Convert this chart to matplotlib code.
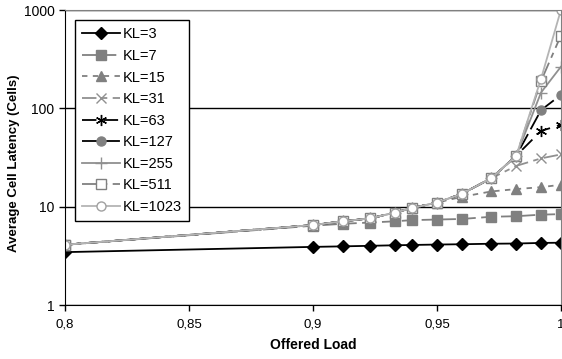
import matplotlib.pyplot as plt
from matplotlib.ticker import FixedLocator, NullLocator, FuncFormatter

plt.rcParams['font.family'] = ['Liberation Sans', 'DejaVu Sans']

# offered load values
load = [0.8, 0.9, 0.912, 0.923, 0.933, 0.94, 0.95, 0.96, 0.972, 0.982, 0.992, 1.0]

# average cell latency per KL value
kl3 = [3.45, 3.9, 3.95, 4.0, 4.05, 4.08, 4.12, 4.15, 4.2, 4.22, 4.28, 4.3]
kl7 = [4.1, 6.4, 6.7, 6.9, 7.1, 7.3, 7.4, 7.5, 7.9, 8.0, 8.3, 8.4]
kl15 = [4.1, 6.5, 7.1, 7.6, 8.7, 9.7, 11.0, 12.6, 14.3, 15.1, 15.8, 16.7]
kl31 = [4.1, 6.5, 7.1, 7.6, 8.7, 9.7, 11.0, 13.5, 19.5, 26, 31, 34]
kl63 = [4.1, 6.5, 7.1, 7.6, 8.7, 9.7, 11.0, 13.5, 19.5, 33, 59, 68]
kl127 = [4.1, 6.5, 7.1, 7.6, 8.7, 9.7, 11.0, 13.5, 19.5, 33, 96, 137]
kl255 = [4.1, 6.5, 7.1, 7.6, 8.7, 9.7, 11.0, 13.5, 19.5, 33, 145, 265]
kl511 = [4.1, 6.5, 7.1, 7.6, 8.7, 9.7, 11.0, 13.5, 19.5, 33, 190, 550]
kl1023 = [4.1, 6.5, 7.1, 7.6, 8.7, 9.7, 11.0, 13.5, 19.5, 33, 200, 1000]

series = [
    ('KL=3', kl3, dict(color='black', ls='-', marker='D', mfc='black', mec='black', ms=6)),
    ('KL=7', kl7, dict(color='#808080', ls=(0, (8, 3)), marker='s', mfc='#808080', mec='#808080', ms=6.5)),
    ('KL=15', kl15, dict(color='#808080', ls=(0, (3, 3)), marker='^', mfc='#808080', mec='#808080', ms=7)),
    ('KL=31', kl31, dict(color='#909090', ls=(0, (8, 3, 3, 3)), marker='x', mfc='none', mec='#909090', ms=7.5)),
    ('KL=63', kl63, dict(color='black', ls=(0, (8, 4)), marker=(6, 2, 0), mec='black', ms=8)),
    ('KL=127', kl127, dict(color='black', ls=(0, (9, 3)), marker='o', mfc='#808080', mec='#808080', ms=6.5)),
    ('KL=255', kl255, dict(color='#909090', ls='-', marker='+', mec='#909090', ms=9)),
    ('KL=511', kl511, dict(color='#808080', ls=(0, (8, 3, 3, 3)), marker='s', mfc='white', mec='#808080', ms=6.5)),
    ('KL=1023', kl1023, dict(color='#b4b4b4', ls='-', marker='o', mfc='white', mec='#a0a0a0', ms=6.5)),
]

fig = plt.figure(figsize=(5.62, 3.59), dpi=100)
ax = fig.add_axes([0.1157, 0.1504, 0.8823, 0.8216])

for label, vals, st in series:
    ax.plot(load, vals, label=label, lw=1.3, **st)

ax.set_yscale('log')
ax.set_xlim(0.8, 1.0)
ax.set_ylim(1, 1000)

ax.yaxis.set_major_locator(FixedLocator([1, 10, 100, 1000]))
ax.yaxis.set_minor_locator(NullLocator())
ax.yaxis.set_major_formatter(FuncFormatter(lambda v, p: '%d' % v))
ax.set_xticks([0.8, 0.85, 0.9, 0.95, 1.0])
ax.set_xticklabels(['0,8', '0,85', '0,9', '0,95', '1'])
ax.tick_params(direction='out', length=4, width=1, colors='black')
ax.tick_params(axis='x', pad=6, labelsize=9.5)
ax.tick_params(axis='y', labelsize=10)

ax.grid(axis='y', color='black', lw=1)
ax.set_axisbelow(True)
for s in ['top', 'right']:
    ax.spines[s].set_color('#808080')
for s in ['left', 'bottom']:
    ax.spines[s].set_color('black')

ax.set_xlabel('Offered Load', fontsize=10, fontweight='bold', labelpad=5)
ax.set_ylabel('Average Cell Latency (Cells)', fontsize=9.5, fontweight='bold', labelpad=5)
ax.yaxis.set_label_coords(-0.09, 0.48)

leg = ax.legend(loc='upper left', bbox_to_anchor=(0.02, 0.966), borderaxespad=0,
                fontsize=10.5, handlelength=2.6, labelspacing=0.52, borderpad=0.5,
                handletextpad=0.2, fancybox=False, framealpha=1, edgecolor='black')
leg.get_frame().set_linewidth(1)

fig.savefig('out.png', dpi=100)
